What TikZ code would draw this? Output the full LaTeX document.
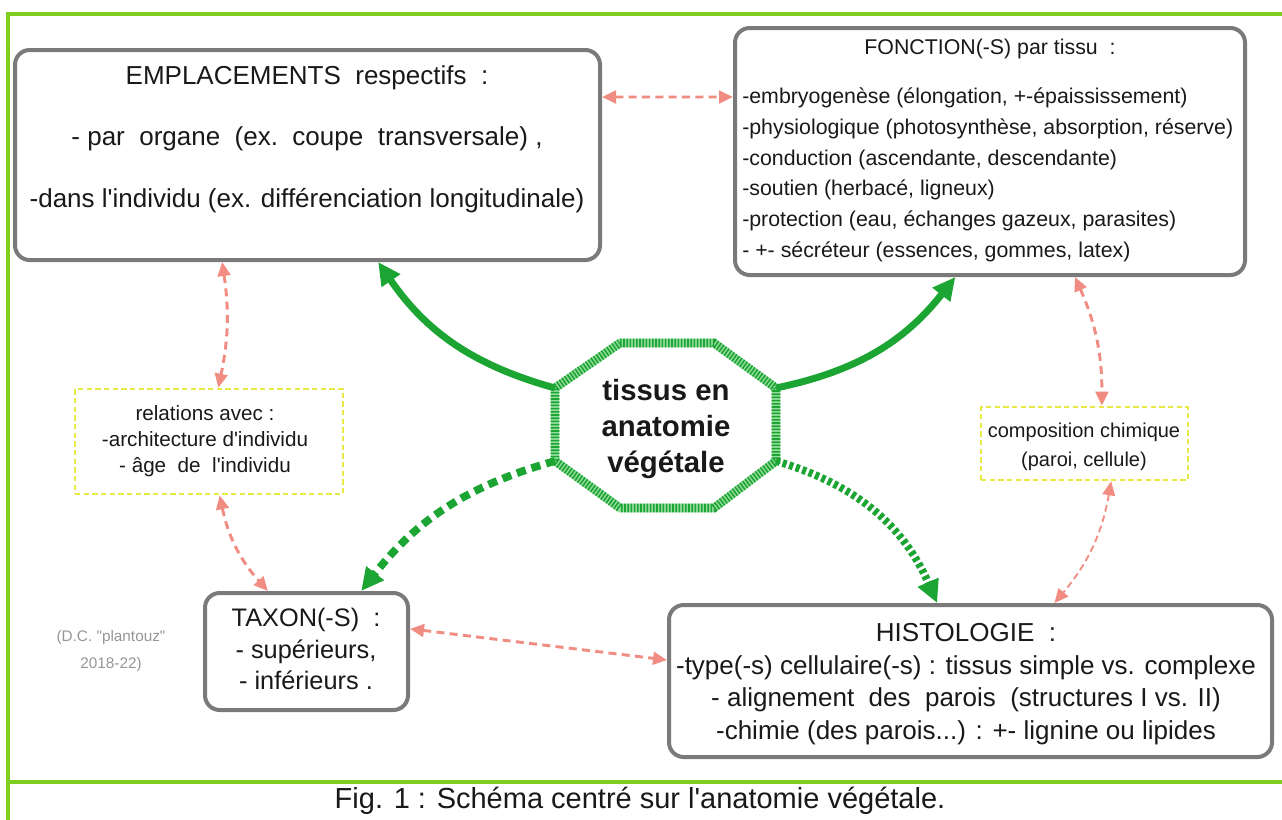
\documentclass[tikz,border=0pt]{standalone}
\usepackage{fontspec}
\setmainfont{Liberation Sans}
\usetikzlibrary{arrows.meta,calc,fit}
\definecolor{framegreen}{RGB}{126,206,32}
\definecolor{boxgray}{RGB}{122,122,122}
\definecolor{pinkar}{RGB}{240,140,130}
\definecolor{garrow}{RGB}{28,165,50}
\definecolor{glight}{RGB}{150,220,160}
\definecolor{ydash}{RGB}{232,232,70}
\definecolor{attrgray}{RGB}{150,150,150}
\newcommand{\q}{\textquotesingle}
\newcommand{\dq}{\textquotedbl}
\begin{document}
\begin{tikzpicture}[x=0.75pt,y=-0.75pt,
  box/.style={draw=boxgray, line width=3pt, rounded corners=11pt, inner sep=0pt, fill=white},
  ybox/.style={draw=ydash, line width=2pt, dash pattern=on 4pt off 2.5pt, inner sep=0pt},
  txt/.style={inner sep=0pt, align=center, text=black!90},
  pinkarrow/.style={draw=pinkar, line width=2.2pt, dash pattern=on 6pt off 4pt,
     {Triangle[length=10.5pt,width=9.5pt]}-{Triangle[length=10.5pt,width=9.5pt]}},
  thinpink/.style={pinkarrow, line width=1.4pt, dash pattern=on 5pt off 3pt},
  gsolid/.style={draw=garrow, line width=5.2pt, -{Triangle[length=17pt,width=16pt]}},
  gdashed/.style={gsolid, line width=5.8pt, dash pattern=on 7pt off 4.5pt},
  gdotted/.style={gsolid, line width=5.8pt, dash pattern=on 3pt off 2.2pt},
  framel/.style={draw=framegreen, line width=2.4pt}
]
\useasboundingbox (0,0) rectangle (1282,819);
% frame
\draw[framel] (8,830) -- (8,14) -- (1290,14);
\draw[framel] (8,782) -- (1290,782);

% boxes
\node[box, fit={(15,50) (600,260)}] (emp) {};
\node[box, fit={(735,28) (1245,275)}] (fon) {};
\node[box, fit={(205,593) (408,710)}] (tax) {};
\node[box, fit={(669,605) (1272,757)}] (his) {};
\node[ybox, fit={(75,389) (343,494)}] (rel) {};
\node[ybox, fit={(981,407) (1188,480)}] (comp) {};

% texts
\node[txt, font={\fontsize{19.5pt}{46pt}\selectfont}] (emptxt) at (307,139)
  {EMPLACEMENTS\ \ respectifs\ \ :\\- par\ \ organe\ \ (ex.\ \ coupe\ \ transversale)\ ,\\-dans l\q individu (ex. différenciation longitudinale)};
\node[txt, font={\fontsize{16pt}{20pt}\selectfont}] (fontitle) at (990,49) {FONCTION(-S) par tissu\ \ :};
\node[txt, align=left, anchor=west, font={\fontsize{16pt}{23pt}\selectfont}] (fonlist) at (742,175)
  {-embryogenèse (élongation, +-épaississement)\\-physiologique (photosynthèse, absorption, réserve)\\-conduction (ascendante, descendante)\\-soutien (herbacé, ligneux)\\-protection (eau, échanges gazeux, parasites)\\- +- sécréteur (essences, gommes, latex)};
\node[txt, font={\fontsize{15.5pt}{19.5pt}\selectfont}] (reltxt) at (205,441)
  {relations avec :\\-architecture d\q individu\\- âge\ \ de\ \ l\q individu};
\node[txt, font={\fontsize{15pt}{21.5pt}\selectfont}] (comptxt) at (1084,447)
  {composition chimique\\(paroi, cellule)};
\node[txt, font={\fontsize{19pt}{23.5pt}\selectfont}] (taxtxt) at (306,649)
  {TAXON(-S)\ \ :\\- supérieurs,\\- inférieurs .};
\node[txt, font={\fontsize{19.5pt}{24.5pt}\selectfont}] (histxt) at (966,684)
  {HISTOLOGIE\ \ :\\-type(-s) cellulaire(-s) : tissus simple vs. complexe\\- alignement\ \ des\ \ parois\ \ (structures I vs. II)\\-chimie (des parois...) : +- lignine ou lipides};
\node[txt, text=attrgray, font={\fontsize{11.5pt}{20pt}\selectfont}] (attr) at (111,651)
  {(D.C. \dq plantouz\dq\\2018-22)};
\node[txt, font={\fontsize{21.75pt}{26pt}\selectfont}] (caption) at (640,801)
  {Fig. 1 : Schéma centré sur l\q anatomie végétale.};

% octagon
\coordinate (o1) at (620,343); \coordinate (o2) at (714,343);
\coordinate (o3) at (776,388); \coordinate (o4) at (776,461);
\coordinate (o5) at (714,508); \coordinate (o6) at (620,508);
\coordinate (o7) at (555,461); \coordinate (o8) at (555,388);
\fill[white] (o1)--(o2)--(o3)--(o4)--(o5)--(o6)--(o7)--(o8)--cycle;
\draw[glight, line width=6.5pt] (o1)--(o2)--(o3)--(o4)--(o5)--(o6)--(o7)--(o8)--cycle;
\draw[garrow, line width=6.5pt, dash pattern=on 1.2pt off 1.2pt] (o1)--(o2)--(o3)--(o4)--(o5)--(o6)--(o7)--(o8)--cycle;
\node[txt, font={\fontsize{22pt}{27pt}\selectfont\bfseries}] (oct) at (666,429) {tissus en\\anatomie\\végétale};

% green arrows
\draw[gsolid] (o8) to[bend left=20] ([xshift=53pt]emp.south);
\draw[gsolid] (o3) to[bend right=20] ([xshift=-26pt]fon.south);
\draw[gdashed] (o7) to[bend right=18] ([xshift=41pt]tax.north);
\draw[gdotted] (o4) to[bend left=25] ([xshift=-25pt]his.north);

% pink arrows
\draw[pinkarrow] ([yshift=43.5pt]emp.east) -- ([yshift=40.9pt]fon.west);
\draw[pinkarrow] ([xshift=-64pt]emp.south) to[bend left=10] ([xshift=7pt]rel.north);
\draw[pinkarrow] ([xshift=8pt]rel.south) to[bend right=15] ([xshift=-29pt]tax.north);
\draw[pinkarrow] ([yshift=17pt]tax.east) -- ([yshift=15.75pt]his.west);
\draw[pinkarrow] ([xshift=63.75pt]fon.south) to[bend left=12] ([xshift=13pt]comp.north);
\draw[thinpink] ([xshift=20pt]comp.south) to[bend left=15] ([xshift=63pt]his.north);
\end{tikzpicture}
\end{document}
